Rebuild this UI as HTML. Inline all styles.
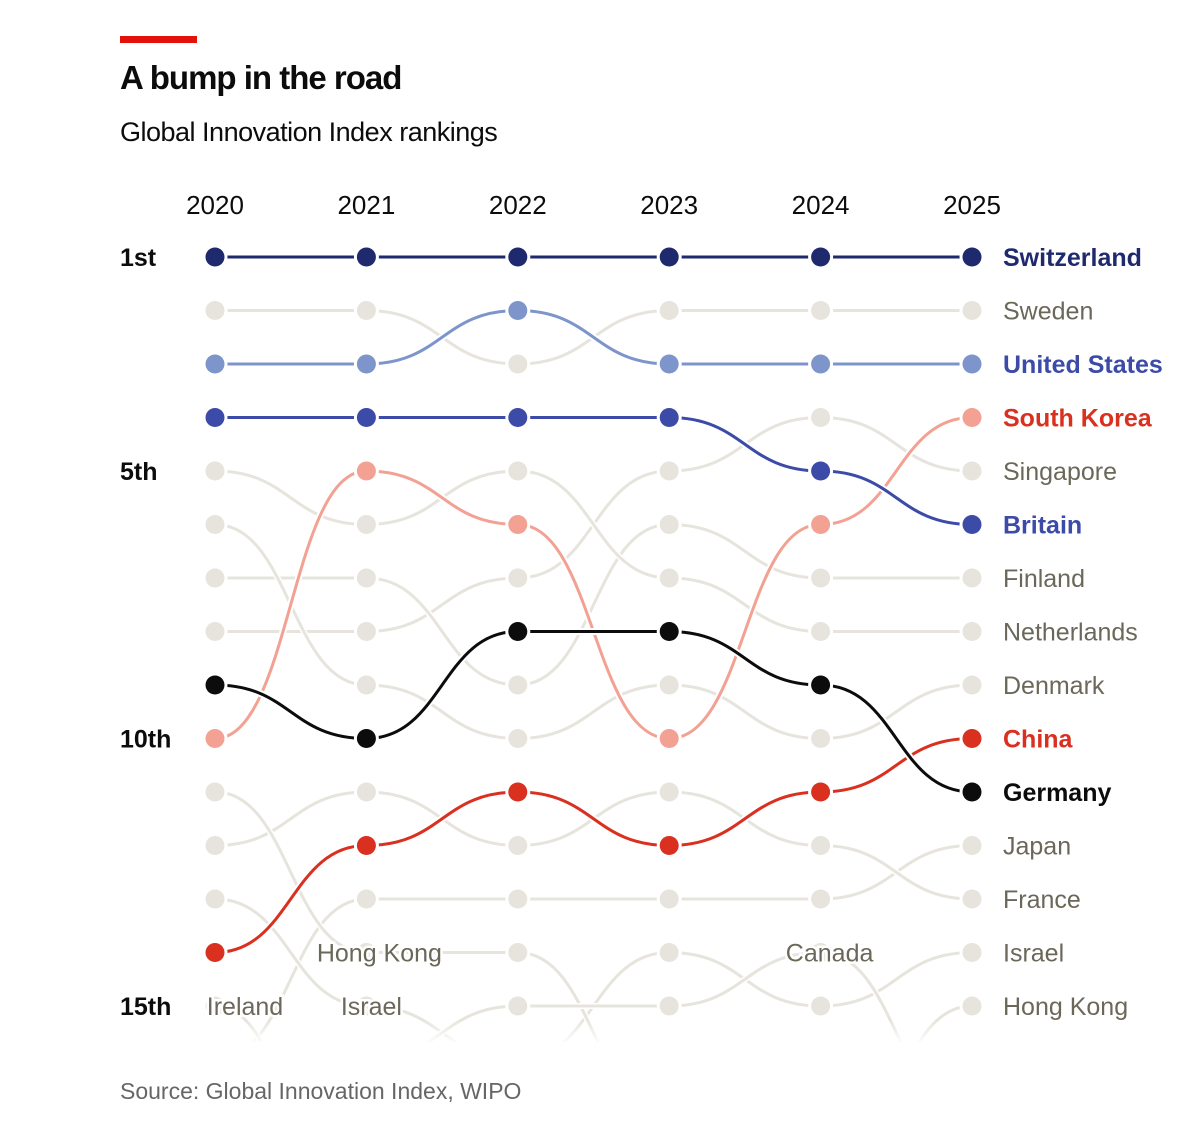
<!DOCTYPE html>
<html><head><meta charset="utf-8"><style>
html,body{margin:0;padding:0;background:#fff;width:1200px;height:1145px;overflow:hidden}
svg{display:block}
text{font-family:"Liberation Sans","DejaVu Sans",sans-serif}
</style></head><body>
<svg id="chart" width="1200" height="1145">
<rect x="120" y="36" width="77" height="7" fill="#e3120b"/>
<text x="120" y="89" font-size="33" font-weight="bold" fill="#0c0c0c" letter-spacing="-1">A bump in the road</text>
<text x="120" y="141" font-size="27" fill="#0c0c0c" letter-spacing="-0.5">Global Innovation Index rankings</text>
<text x="120" y="1099" font-size="23" fill="#666">Source: Global Innovation Index, WIPO</text>
<defs>
<clipPath id="clip"><rect x="100" y="230" width="1100" height="812"/></clipPath>
<linearGradient id="fade" x1="0" y1="0" x2="0" y2="1"><stop offset="0" stop-color="#fff" stop-opacity="0"/><stop offset="1" stop-color="#fff" stop-opacity="1"/></linearGradient>
</defs>
<g id="axes"></g>
<g id="grey" clip-path="url(#clip)"></g>
<g id="hi" clip-path="url(#clip)"></g>
<rect x="180" y="1020" width="860" height="25" fill="url(#fade)"/>
<g id="labels"></g>
</svg>
<script>
const years = [2020, 2021, 2022, 2023, 2024, 2025];
const rankTicks = [1, 5, 10, 15];
const rankTickLabels = ["1st", "5th", "10th", "15th"];
const countries = ["Switzerland","Sweden","United States","South Korea","Singapore","Britain","Finland","Netherlands","Denmark","China","Germany","Japan","France","Israel","Hong Kong","Canada","Ireland"];
const rSwitzerland = [1,1,1,1,1,1];
const rSweden = [2,2,3,2,2,2];
const rUS = [3,3,2,3,3,3];
const rKorea = [10,5,6,10,6,4];
const rSingapore = [8,8,7,5,4,5];
const rBritain = [4,4,4,4,5,6];
const rFinland = [7,7,9,6,7,7];
const rNetherlands = [5,6,5,7,8,8];
const rDenmark = [6,9,10,9,10,9];
const rChina = [14,12,11,12,11,10];
const rGermany = [9,10,8,8,9,11];
const rJapan = [16,13,13,13,13,12];
const rFrance = [12,11,12,11,12,13];
const rIsrael = [13,15,16,14,15,14];
const rHongKong = [11,14,14,17,18,15];
const rCanada = [17,16,15,15,14,17];
const rIreland = [15,19,19,19,19,19];
const ranks = [rSwitzerland,rSweden,rUS,rKorea,rSingapore,rBritain,rFinland,rNetherlands,rDenmark,rChina,rGermany,rJapan,rFrance,rIsrael,rHongKong,rCanada,rIreland];
const highlight = {"Switzerland":"#1f2a6e","United States":"#7d95cb","Britain":"#3c4aa8","South Korea":"#f2a193","China":"#d9301f","Germany":"#0c0c0c"};
const labelColor = {"Switzerland":"#1f2a6e","United States":"#3c4aa8","Britain":"#3c4aa8","South Korea":"#d9301f","China":"#d9301f","Germany":"#0c0c0c"};
const labelShow = ["Switzerland","Sweden","United States","South Korea","Singapore","Britain","Finland","Netherlands","Denmark","China","Germany","Japan","France","Israel","Hong Kong"];
const inlineLabels = [["Ireland",2020,15],["Hong Kong",2021,14],["Israel",2021,15],["Canada",2024,14]];

const NS="http://www.w3.org/2000/svg";
const xs = i => 215 + i*151.4;
const ys = r => 257 + (r-1)*53.5;
const GREY="#e6e4dc", GREYTXT="#6b6859";
function mk(tag, attrs, parent){const e=document.createElementNS(NS,tag);for(const k in attrs)e.setAttribute(k,attrs[k]);parent.appendChild(e);return e;}
const axes=document.getElementById('axes'), grey=document.getElementById('grey'), hi=document.getElementById('hi'), labels=document.getElementById('labels');

years.forEach((y,i)=>{
  const t=mk('text',{x:xs(i),y:214,'font-size':26,'text-anchor':'middle',fill:'#0c0c0c'},axes);
  
  
  t.textContent=y;
});
rankTicks.forEach((r,i)=>{
  const t=mk('text',{x:120,y:ys(r)+9,'font-size':25,fill:'#0c0c0c','font-weight':'bold'},axes);
  
  
  t.textContent=rankTickLabels[i];
});

function pathD(rs){
  let d='M'+xs(0)+','+ys(rs[0]);
  for(let i=1;i<rs.length;i++){
    const x0=xs(i-1),x1=xs(i),y0=ys(rs[i-1]),y1=ys(rs[i]),m=(x0+x1)/2;
    d+=' C'+m+','+y0+' '+m+','+y1+' '+x1+','+y1;
  }
  return d;
}
countries.forEach((c,ci)=>{
  const rs=ranks[ci];
  const col=highlight[c]||GREY;
  const g=mk('g',{},highlight[c]?hi:grey);
  const slug=c.toLowerCase().replace(/ /g,'-');
  
  
  mk('path',{d:pathD(rs),fill:'none',stroke:'#fff','stroke-width':highlight[c]?7:6},g);
  const p2=mk('path',{d:pathD(rs),fill:'none',stroke:col,'stroke-width':3},g);
  
  
  rs.forEach((r,i)=>{
    if(r>15)return;
    mk('circle',{cx:xs(i),cy:ys(r),r:12.5,fill:'#fff'},g);
    const dot=mk('circle',{cx:xs(i),cy:ys(r),r:9.5,fill:col},g);
    
    
  });
  const last=rs[rs.length-1];
  if(last<=15 && labelShow.includes(c)){
    const t=mk('text',{x:1003,y:ys(last)+9,'font-size':25,fill:labelColor[c]||GREYTXT,'font-weight':highlight[c]?'bold':'normal'},labels);
    
    
    t.textContent=c;
  }
});
inlineLabels.forEach(([c,yr,r])=>{
  const i=years.indexOf(yr);
  const t=mk('text',{x:(c==='Hong Kong'?xs(i)+13:c==='Israel'?xs(i)+5:c==='Canada'?xs(i)+9:xs(i)+30),y:ys(r)+9,'font-size':25,fill:GREYTXT,'text-anchor':'middle',stroke:'#fff','stroke-width':5,'paint-order':'stroke'},labels);
  
  
  t.textContent=c;
});
</script>
</body></html>
